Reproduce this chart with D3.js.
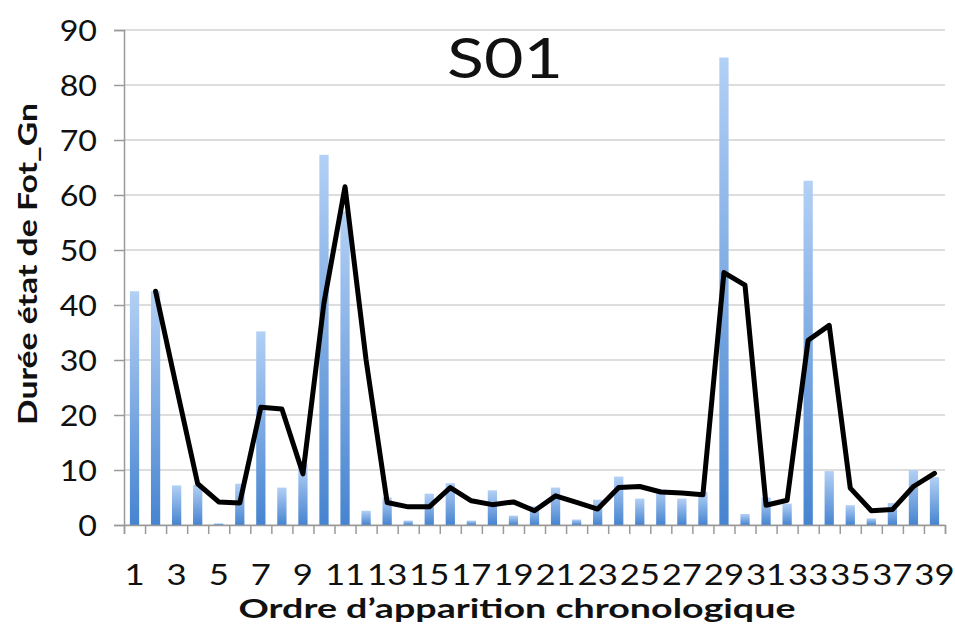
<!DOCTYPE html>
<html>
<head>
<meta charset="utf-8">
<script src="https://cdn.jsdelivr.net/npm/d3@7"></script>
<style>
  html, body { margin: 0; padding: 0; background: #fff; }
  svg { display: block; }
  text { font-family: Lato, "Open Sans", sans-serif; fill: #111; }
</style>
</head>
<body>
<svg id="chart" width="955" height="628"></svg>
<script>
// ---- data ----
const categories = d3.range(1, 40);
const barValues = [42.5, 42.5, 7.2, 7.3, 0.3, 7.5, 35.2, 6.8, 11.0, 67.3,
                   57.0, 2.6, 5.0, 0.8, 5.7, 7.6, 0.8, 6.3, 1.7, 3.4,
                   6.8, 1.0, 4.6, 8.8, 4.8, 6.5, 4.8, 6.0, 85.0, 2.0,
                   5.0, 3.9, 62.6, 9.8, 3.6, 1.2, 4.0, 10.0, 8.7];
const lineCategories = d3.range(2, 40);
const lineValues = [42.5, 24.9, 7.5, 4.2, 4.0, 21.4, 21.1, 9.3, 40.4, 61.5,
                    30.0, 4.1, 3.3, 3.3, 6.8, 4.4, 3.7, 4.2, 2.6, 5.3,
                    4.1, 2.9, 6.8, 7.0, 6.0, 5.8, 5.5, 45.9, 43.6, 3.6,
                    4.5, 33.6, 36.3, 6.7, 2.6, 2.8, 7.0, 9.4];
const yTicks = [0, 10, 20, 30, 40, 50, 60, 70, 80, 90];
const chartTitle = "S01";
const xTitle = "Ordre d\u2019apparition chronologique";
const yTitle = "Durée état de Fot_Gn";

// ---- layout ----
const svg = d3.select("#chart");
const plotLeft = 124, plotRight = 945, plotTop = 30, plotBottom = 525;

const x = d3.scaleBand().domain(categories).range([plotLeft, plotRight]).padding(0);
const xEdges = d3.scaleLinear().domain([0.5, 39.5]).range([plotLeft, plotRight]);
const y = d3.scaleLinear().domain([0, 90]).range([plotBottom, plotTop]);

// gradient for bars
const defs = svg.append("defs");
const grad = defs.append("linearGradient").attr("id", "barGrad")
  .attr("x1", 0).attr("y1", 0).attr("x2", 0).attr("y2", 1);
grad.append("stop").attr("offset", "0%").attr("stop-color", "#b3d0f5");
grad.append("stop").attr("offset", "100%").attr("stop-color", "#4684d0");

// gridlines
svg.append("g").selectAll("line").data(yTicks).join("line")
  .attr("x1", plotLeft).attr("x2", plotRight)
  .attr("y1", d => y(d)).attr("y2", d => y(d))
  .attr("stroke", "#d2d2d2").attr("stroke-width", 1.6);

// bars
const bw = x.bandwidth() * 0.44;
svg.append("g").selectAll("rect").data(categories).join("rect")
  .attr("x", d => x(d) + (x.bandwidth() - bw) / 2)
  .attr("width", bw)
  .attr("y", (d, i) => y(barValues[i]))
  .attr("height", (d, i) => y(0) - y(barValues[i]))
  .attr("fill", "url(#barGrad)");

// y axis
const yAxis = svg.append("g").attr("transform", `translate(${plotLeft},0)`)
  .call(d3.axisLeft(y).tickValues(yTicks).tickSize(10).tickPadding(0));
yAxis.select(".domain").attr("stroke", "#9a9a9a").attr("stroke-width", 1.5);
yAxis.selectAll(".tick line").attr("stroke", "#9a9a9a").attr("stroke-width", 1.5);
yAxis.selectAll(".tick text")
  .attr("x", 0).attr("dy", "0.36em")
  .attr("transform", "translate(-27,0) scale(1.15,1)")
  .attr("text-anchor", "end")
  .style("font-size", "28px").style("font-family", "Lato, sans-serif").attr("fill", "#111");

// x axis: boundary ticks
const xTickAxis = svg.append("g").attr("transform", `translate(0,${plotBottom})`)
  .call(d3.axisBottom(xEdges).tickValues(d3.range(0.5, 40, 1)).tickSize(9).tickFormat(""));
xTickAxis.select(".domain").attr("stroke", "#9a9a9a").attr("stroke-width", 1.5);
xTickAxis.selectAll(".tick line").attr("stroke", "#9a9a9a").attr("stroke-width", 1.5);

// x axis: labels
const xLabelAxis = svg.append("g").attr("transform", `translate(0,${plotBottom})`)
  .call(d3.axisBottom(x).tickSize(0).tickFormat(d => d % 2 === 1 ? String(d) : ""));
xLabelAxis.select(".domain").remove();
xLabelAxis.selectAll(".tick text")
  .attr("y", 0).attr("dy", 0)
  .attr("transform", "translate(0,60) scale(1.24,1)")
  .style("font-size", "28px").style("font-family", "Lato, sans-serif").attr("fill", "#111");

// line
const line = d3.line()
  .x((d, i) => x(lineCategories[i]) + x.bandwidth() / 2)
  .y(d => y(d));
svg.append("path").datum(lineValues)
  .attr("d", line)
  .attr("fill", "none")
  .attr("stroke", "#000")
  .attr("stroke-width", 5)
  .attr("stroke-linejoin", "round")
  .attr("stroke-linecap", "round");

// titles
svg.append("text")
  .attr("x", 505).attr("y", 78)
  .attr("text-anchor", "middle")
  .attr("textLength", 116).attr("lengthAdjust", "spacingAndGlyphs")
  .style("font-size", "56px")
  .text(chartTitle);

svg.append("text")
  .attr("x", 517).attr("y", 618)
  .attr("text-anchor", "middle")
  .attr("textLength", 557).attr("lengthAdjust", "spacingAndGlyphs")
  .style("font-size", "26px").style("font-weight", "bold")
  .text(xTitle);

svg.append("text")
  .attr("transform", "translate(37,264) rotate(-90)")
  .attr("text-anchor", "middle")
  .attr("textLength", 322).attr("lengthAdjust", "spacingAndGlyphs")
  .style("font-size", "26px").style("font-weight", "bold")
  .text(yTitle);
</script>
</body>
</html>
